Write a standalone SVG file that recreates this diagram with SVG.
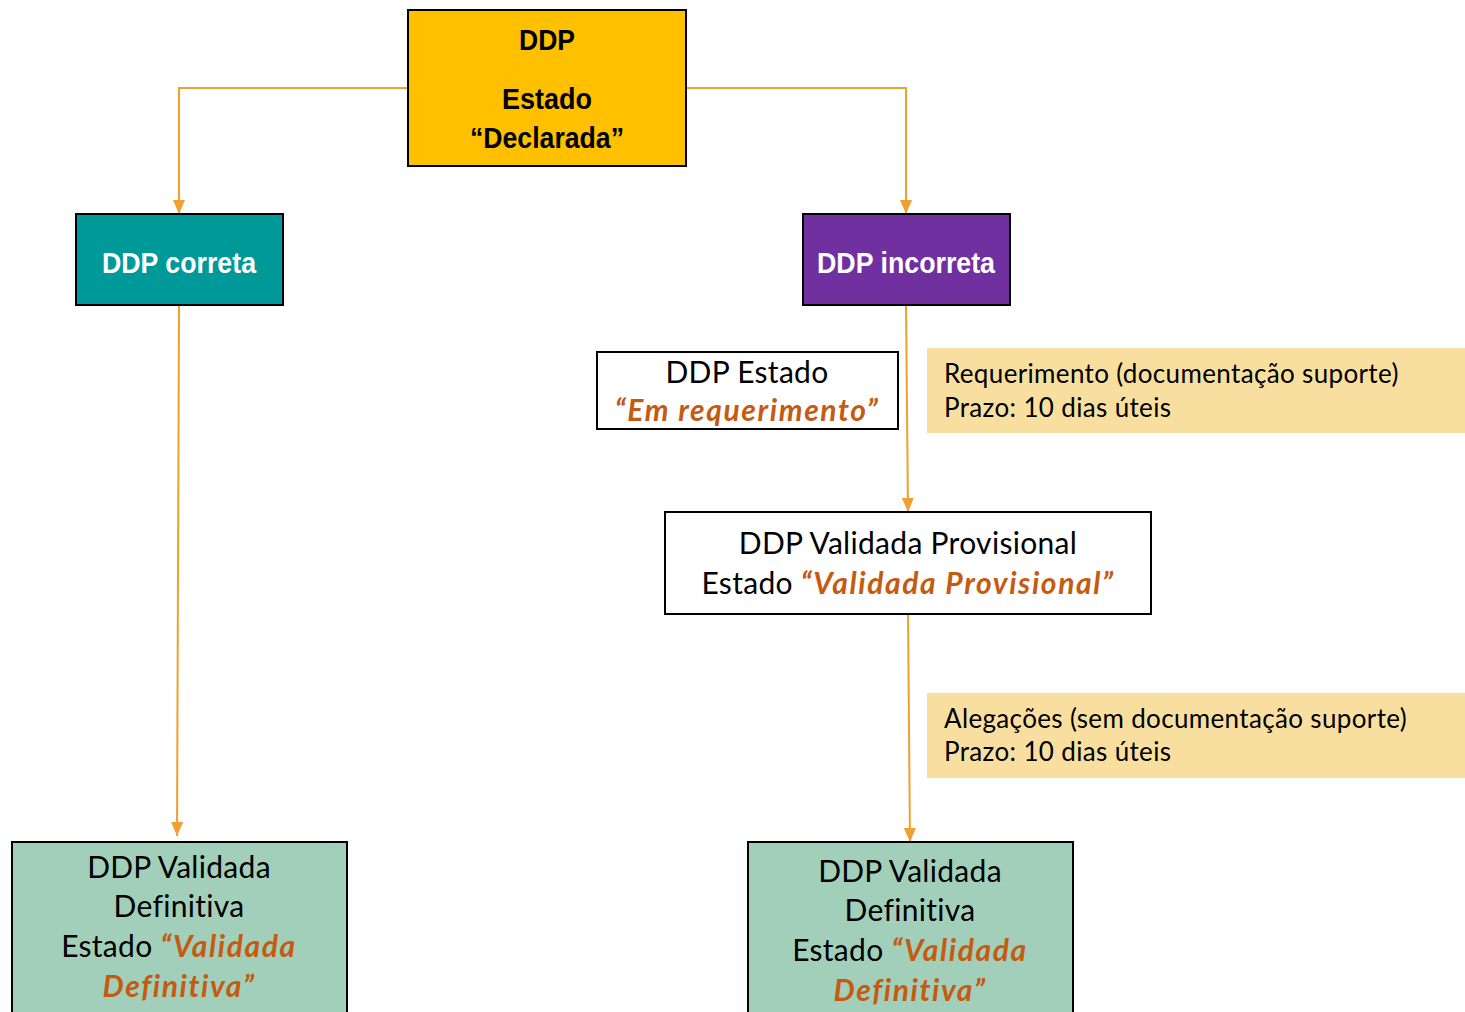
<svg xmlns="http://www.w3.org/2000/svg" width="1465" height="1012" viewBox="0 0 1465 1012">
<style>
.box{stroke:#000;stroke-width:2}
.nar{font-family:"Liberation Sans",Arial,sans-serif;font-weight:bold;text-anchor:middle}
.hum{font-family:"Lato","Open Sans",sans-serif;fill:#000;font-size:30px;letter-spacing:0.3px}
.note{font-size:26px;letter-spacing:0.35px}
.c{text-anchor:middle}
.em{fill:#C55A11;font-weight:bold;font-style:italic;letter-spacing:1.6px}
.con{stroke:#F0A030;stroke-width:2;fill:none}
</style>
<defs>
<marker id="a" viewBox="0 0 14 12" refX="14" refY="6" markerWidth="14" markerHeight="12" orient="auto" markerUnits="userSpaceOnUse">
<path d="M0,0 L14,6 L0,12 z" fill="#F0A030"/>
</marker>
</defs>
<g id="connectors">
<path class="con" d="M408,88 H179 V214" marker-end="url(#a)"/>
<path class="con" d="M686,88 H906 V214" marker-end="url(#a)"/>
<path class="con" d="M179,305 L177,836" marker-end="url(#a)"/>
<path class="con" d="M906,305 L908,512" marker-end="url(#a)"/>
<path class="con" d="M908,614 L910,842" marker-end="url(#a)"/>
</g>
<g id="ddp">
<rect class="box" x="408" y="10" width="278" height="156" fill="#FFC000"/>
<text class="nar" font-size="30" x="547" y="50" textLength="56" lengthAdjust="spacingAndGlyphs">DDP</text>
<text class="nar" font-size="30" x="547" y="109" textLength="90" lengthAdjust="spacingAndGlyphs">Estado</text>
<text class="nar" font-size="30" x="547" y="148" textLength="154" lengthAdjust="spacingAndGlyphs">“Declarada”</text>
</g>
<g id="correta">
<rect class="box" x="76" y="214" width="207" height="91" fill="#009999"/>
<text class="nar" font-size="30" x="179" y="273" fill="#fff" textLength="154" lengthAdjust="spacingAndGlyphs">DDP correta</text>
</g>
<g id="incorreta">
<rect class="box" x="803" y="214" width="207" height="91" fill="#7030A0"/>
<text class="nar" font-size="30" x="906" y="273" fill="#fff" textLength="178" lengthAdjust="spacingAndGlyphs">DDP incorreta</text>
</g>
<g id="requerimento">
<rect class="box" x="597" y="352" width="301" height="77" fill="#fff"/>
<text class="hum c" x="747" y="383">DDP Estado</text>
<text class="hum c em" x="747" y="421">“Em requerimento”</text>
</g>
<g id="nota1">
<rect x="927" y="348" width="538" height="85" fill="#F8DF9F"/>
<text class="hum note" x="944" y="383">Requerimento (documentação suporte)</text>
<text class="hum note" x="944" y="417">Prazo: 10 dias úteis</text>
</g>
<g id="provisional">
<rect class="box" x="665" y="512" width="486" height="102" fill="#fff"/>
<text class="hum c" x="908" y="554">DDP Validada Provisional</text>
<text class="hum c" x="908" y="594">Estado <tspan class="em">“Validada Provisional”</tspan></text>
</g>
<g id="nota2">
<rect x="927" y="693" width="538" height="85" fill="#F8DF9F"/>
<text class="hum note" x="944" y="728">Alegações (sem documentação suporte)</text>
<text class="hum note" x="944" y="761">Prazo: 10 dias úteis</text>
</g>
<g id="definitiva1">
<rect class="box" x="12" y="842" width="335" height="180" fill="#A1CFB9"/>
<text class="hum c" x="179" y="878">DDP Validada</text>
<text class="hum c" x="179" y="917">Definitiva</text>
<text class="hum c" x="179" y="957">Estado <tspan class="em">“Validada</tspan></text>
<text class="hum c em" x="179" y="997">Definitiva”</text>
</g>
<g id="definitiva2">
<rect class="box" x="748" y="842" width="325" height="180" fill="#A1CFB9"/>
<text class="hum c" x="910" y="882">DDP Validada</text>
<text class="hum c" x="910" y="921">Definitiva</text>
<text class="hum c" x="910" y="961">Estado <tspan class="em">“Validada</tspan></text>
<text class="hum c em" x="910" y="1001">Definitiva”</text>
</g>
</svg>
